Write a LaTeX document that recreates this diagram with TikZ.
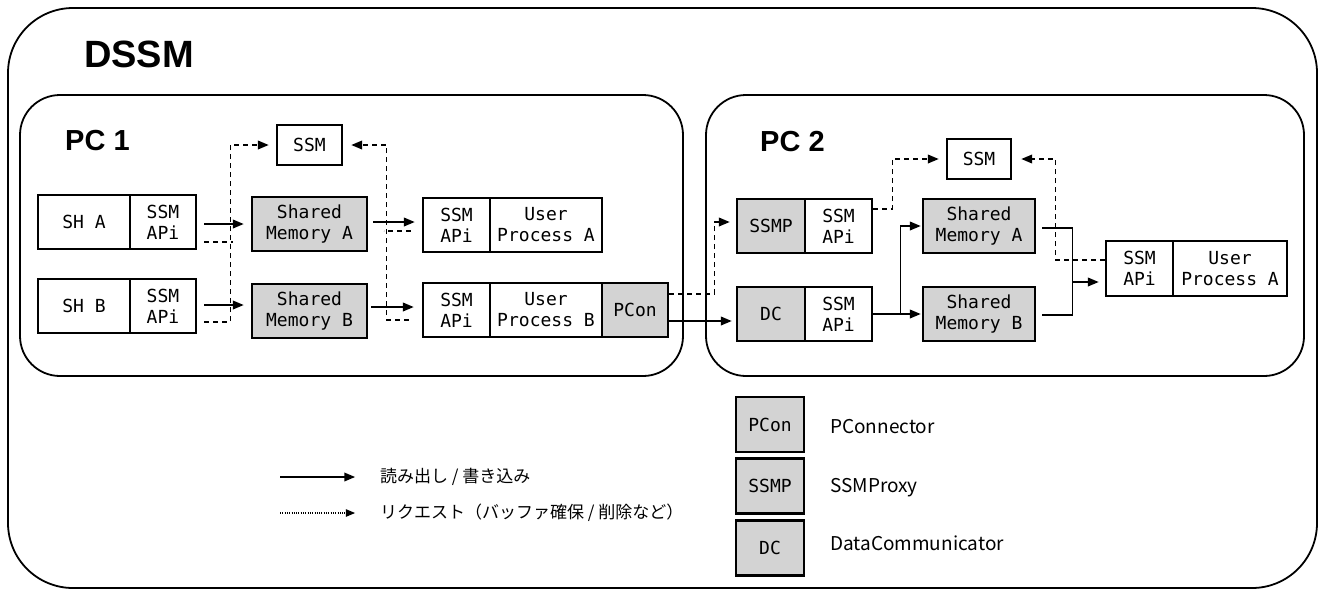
\documentclass[tikz,border=0pt]{standalone}
\usepackage{fontspec}
\setmainfont{Liberation Sans}
\setmonofont{DejaVu Sans Mono}
\newfontfamily\jpfont{Noto Sans CJK JP}
\definecolor{memgray}{RGB}{211,211,211}
\usetikzlibrary{arrows}

\begin{document}
\begin{tikzpicture}[x=1pt,y=-1pt,>=triangle 45,
		blk/.style={draw,line width=2.8pt,inner sep=0pt,align=center,minimum height=54pt,
			font=\fontsize{18}{21}\selectfont\ttfamily},
		gblk/.style={blk,fill=memgray},
		frame/.style={line width=1.8pt,rounded corners=40pt},
		title/.style={inner sep=0pt,anchor=west,font=\fontsize{29}{30}\selectfont\bfseries},
		rw/.style={line width=1.5pt,->},
		rwline/.style={line width=1.5pt},
		rq/.style={line width=1.5pt,->,dash pattern=on 5pt off 4pt},
		rqline/.style={line width=1.5pt,dash pattern=on 5pt off 4pt},
		rdot/.style={line width=1.1pt,->,dash pattern=on 1pt off 1.3pt},
		lbl/.style={inner sep=0pt,anchor=west,font=\fontsize{17}{20}\selectfont\jpfont}]
	\useasboundingbox (0,0) rectangle (1321,590);
	% frames
	\draw [frame,rounded corners=65pt] (8,8) rectangle (1317,588);
	\draw [frame] (20,95) rectangle (683,376);
	\draw [frame] (706,95) rectangle (1304,376);
	\node [title,font=\fontsize{38}{40}\selectfont\bfseries] (tdssm) at (84,54) {DSSM};
	\node [title] (tpc1) at (65,141) {PC 1};
	\node [title] (tpc2) at (760,142) {PC 2};
	
	% PC 1
	\node [blk,minimum width=92pt] (sha) at (84,222) {SH A};
	\node [blk,minimum width=66pt] (shaapi) at (163,222) {SSM\\APi};
	\node [blk,minimum width=92pt] (shb) at (84,306) {SH B};
	\node [blk,minimum width=66pt] (shbapi) at (163,306) {SSM\\APi};
	\node [blk,minimum width=65pt,minimum height=40pt] (ssm1) at (309.5,145) {SSM};
	\node [gblk,minimum width=115pt] (sma1) at (309.5,224) {Shared\\Memory A};
	\node [gblk,minimum width=115pt] (smb1) at (309.5,311) {Shared\\Memory B};
	\node [blk,minimum width=67pt] (upaapi) at (456.5,225) {SSM\\APi};
	\node [blk,minimum width=112pt] (upa) at (546,225) {User\\Process A};
	\node [blk,minimum width=67pt] (upbapi) at (456.5,310) {SSM\\APi};
	\node [blk,minimum width=112pt] (upb) at (546,310) {User\\Process B};
	\node [gblk,minimum width=66pt] (pcon) at (635,310) {PCon};
	
	\draw [rw,shorten <=7pt,shorten >=7pt] ([yshift=-2pt]shaapi.east) -- (sma1.west);
	\draw [rw,shorten <=7pt,shorten >=7pt] ([yshift=1pt]shbapi.east) -- ([yshift=6pt]smb1.west);
	\draw [rw,shorten <=5pt,shorten >=7pt] ([yshift=2pt]sma1.east) -- ([yshift=3pt]upaapi.west);
	\draw [rw,shorten <=3pt,shorten >=8pt] ([yshift=4pt]smb1.east) -- ([yshift=3pt]upbapi.west);
	\draw [rqline] ([xshift=7pt,yshift=-20pt]shaapi.east) -- ++(29,0);
	\draw [rq] ([xshift=7pt,yshift=-16pt]shbapi.east) -| ([xshift=-45pt]ssm1.west) -- ([xshift=-7pt]ssm1.west);
	\draw [rqline] ([xshift=-11pt,yshift=-6pt]upaapi.west) -- ++(-27,0);
	\draw [rq] ([xshift=-13pt,yshift=-10pt]upbapi.west) -| ([xshift=43pt]ssm1.east) -- ([xshift=8pt]ssm1.east);
	
	% PC 2
	\node [blk,minimum width=64pt,minimum height=40pt] (ssm2) at (979,159) {SSM};
	\node [gblk,minimum width=68pt] (ssmp) at (771,226) {SSMP};
	\node [blk,minimum width=67pt] (ssmpapi) at (838.5,226) {SSM\\APi};
	\node [gblk,minimum width=68pt] (dc) at (771,314) {DC};
	\node [blk,minimum width=67pt] (dcapi) at (838.5,314) {SSM\\APi};
	\node [gblk,minimum width=112pt] (sma2) at (979,226) {Shared\\Memory A};
	\node [gblk,minimum width=112pt] (smb2) at (979,314) {Shared\\Memory B};
	\node [blk,minimum width=67pt,minimum height=55pt] (upa2api) at (1139.5,268.5) {SSM\\APi};
	\node [blk,minimum width=114pt,minimum height=55pt] (upa2) at (1230,268.5) {User\\Process A};
	
	\draw [rq] ([yshift=16pt]pcon.east) -| ([xshift=-21pt,yshift=4pt]ssmp.west) -- ([xshift=-6pt,yshift=4pt]ssmp.west);
	\draw [rw,shorten >=4pt] ([yshift=-11pt]pcon.east) -- ([yshift=-7pt]dc.west);
	\draw [rq] ([yshift=17pt]ssmpapi.east) -| ([xshift=-53pt]ssm2.west) -- ([xshift=-7pt]ssm2.west);
	\draw [rw,shorten >=1pt] (dcapi.east) -| ([xshift=-21pt]sma2.west) -- (sma2.west);
	\draw [rw,shorten >=1pt] (dcapi.east) -- (smb2.west);
	\coordinate (j2) at ([xshift=-32pt,yshift=-13.5pt]upa2api.west);
	\draw [rwline] ([xshift=6pt,yshift=-2pt]sma2.east) -| (j2) |- ([xshift=6pt,yshift=-1pt]smb2.east);
	\draw [rw,shorten >=6pt] (j2) -- ([yshift=-13.5pt]upa2api.west);
	\draw [rq] ([yshift=8.5pt]upa2api.west) -| ([xshift=43pt]ssm2.east) -- ([xshift=9pt]ssm2.east);
	
	% legend
	\coordinate (lw0) at (280,477);
	\coordinate (lw1) at (355,477);
	\coordinate (lq0) at (280,513);
	\coordinate (lq1) at (355,513);
	\draw [rw] (lw0) -- (lw1);
	\draw [rdot] (lq0) -- (lq1);
	\node [lbl] (trw) at (380,477) {読み出し / 書き込み};
	\node [lbl] (trq) at (380,513) {リクエスト（バッファ確保 / 削除など）};
	
	\node [gblk,minimum width=68pt,minimum height=55pt] (lpcon) at (770,424.5) {PCon};
	\node [gblk,minimum width=68pt,minimum height=55pt] (lssmp) at (770,486) {SSMP};
	\node [gblk,minimum width=68pt,minimum height=55pt] (ldc) at (770,548) {DC};
	\node [lbl,font=\fontsize{19}{20}\selectfont\jpfont] (tpcon) at (830,427) {PConnector};
	\node [lbl,font=\fontsize{19}{20}\selectfont\jpfont] (tssmp) at (830,488) {SSMProxy};
	\node [lbl,font=\fontsize{19}{20}\selectfont\jpfont] (tdc) at (830,543) {DataCommunicator};
\end{tikzpicture}
\end{document}
